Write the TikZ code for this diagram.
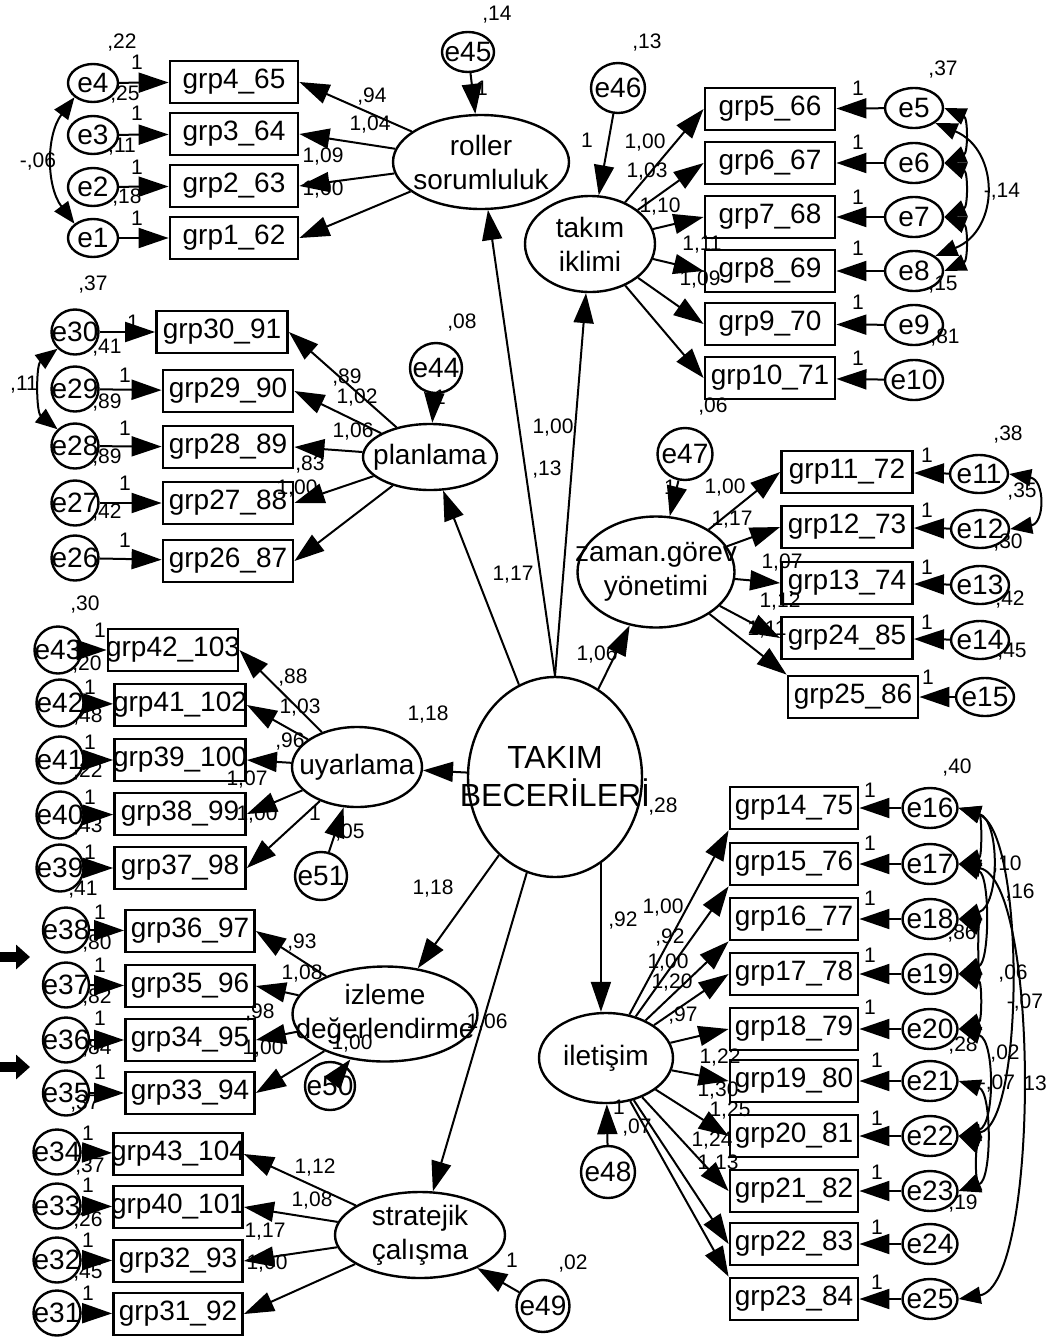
\documentclass[tikz,border=0pt]{standalone}
\usepackage{fontspec}
\setmainfont{Liberation Sans}
\usetikzlibrary{arrows.meta,shapes.geometric}
\newcounter{lbc}
\newcommand\mylb[3]{\stepcounter{lbc}\node[lbl] (L\thelbc) at (#1,#2) {#3};}
\newcommand\mybx[5]{\node[obs,minimum width=#4pt] (#1) at (#2,#3) {};\node[btxt] (#1t) at (#1) {#5};}
\newcommand\myev[6]{\node[err,minimum width=#4pt,minimum height=#5pt] (#1) at (#2,#3) {};\node[etxt] (#1t) at (#1) {#6};}
\newcommand\mylv[6]{\node[lat,minimum width=#4pt,minimum height=#5pt] (#1) at (#2,#3) {};\node[ltxt] (#1t) at (#1) {#6};}
\newcommand\mycv[5]{\draw[cov] (#1) .. controls (#3,#4) and (#3,#5) .. (#2);}
\tikzset{
 obs/.style={draw,line width=2.8pt,minimum height=42pt,inner sep=0pt},
 btxt/.style={inner sep=0pt,font=\fontsize{28}{30}\selectfont},
 err/.style={draw,ellipse,line width=2.4pt,inner sep=0pt},
 etxt/.style={inner sep=0pt,font=\fontsize{28}{30}\selectfont},
 lat/.style={draw,ellipse,line width=2.4pt,inner sep=0pt},
 ltxt/.style={inner sep=0pt,align=center,font=\fontsize{28}{34}\selectfont},
 lbl/.style={inner sep=0pt,font=\fontsize{21}{22}\selectfont},
 arr/.style={-{Triangle[length=30pt,width=20pt]},line width=2pt},
 cov/.style={{Triangle[length=22pt,width=17pt]}-{Triangle[length=22pt,width=17pt]},line width=2pt}
}
\begin{document}
\begin{tikzpicture}[x=1pt,y=-1pt]
\fill[white] (0,0) rectangle (1049,1339);
\useasboundingbox (0,0) rectangle (1049,1339);

% ---------- latent variables ----------
\mylv{roller}{481}{162}{176}{94}{roller\\sorumluluk}
\mylv{takim}{590}{244}{130}{96}{takım\\iklimi}
\mylv{plan}{430}{457}{134}{66}{planlama}
\mylv{zaman}{656}{572}{157}{111}{zaman.görev\\yönetimi}
\mylv{uyar}{357}{767}{130}{80}{uyarlama}
\mylv{izleme}{385}{1014}{185}{95}{izleme\\değerlendirme}
\mylv{strat}{420}{1235}{170}{86}{stratejik\\çalışma}
\mylv{ilet}{606}{1058}{134}{90}{iletişim}
\node[lat,minimum width=174pt,minimum height=200pt] (tb) at (555,777) {};
\node[inner sep=0pt,align=center,font=\fontsize{32}{38}\selectfont] (tbt) at (tb) {TAKIM\\BECERİLERİ};

% ---------- disturbance terms ----------
\myev{e45}{468}{52}{52}{40}{e45}
\myev{e46}{618}{88}{54}{50}{e46}
\myev{e44}{436}{368}{52}{50}{e44}
\myev{e47}{685}{454}{55}{52}{e47}
\myev{e51}{321}{876}{52}{48}{e51}
\myev{e50}{330}{1086}{50}{48}{e50}
\myev{e48}{608}{1172}{54}{52}{e48}
\myev{e49}{543}{1306}{53}{52}{e49}

% ---------- roller group ----------
\mybx{b4}{234}{82}{128}{grp4\_65}
\mybx{b3}{234}{134}{128}{grp3\_64}
\mybx{b2}{234}{186}{128}{grp2\_63}
\mybx{b1}{234}{238}{128}{grp1\_62}
\myev{e4}{93}{83}{50}{38}{e4}
\myev{e3}{93}{135}{50}{38}{e3}
\myev{e2}{93}{187}{50}{38}{e2}
\myev{e1}{93}{238}{50}{38}{e1}

% ---------- takim iklimi group ----------
\mybx{b5}{770}{109}{130}{grp5\_66}
\mybx{b6}{770}{163}{130}{grp6\_67}
\mybx{b7}{770}{217}{130}{grp7\_68}
\mybx{b8}{770}{271}{130}{grp8\_69}
\mybx{b9}{770}{324}{130}{grp9\_70}
\mybx{b10}{770}{378}{130}{grp10\_71}
\myev{e5}{914}{108}{58}{40}{e5}
\myev{e6}{914}{163}{58}{40}{e6}
\myev{e7}{914}{217}{58}{40}{e7}
\myev{e8}{914}{271}{58}{40}{e8}
\myev{e9}{914}{325}{58}{40}{e9}
\myev{e10}{914}{380}{58}{40}{e10}

% ---------- planlama group ----------
\mybx{b30}{222}{332}{131}{grp30\_91}
\mybx{b29}{228}{391}{130}{grp29\_90}
\mybx{b28}{228}{447}{130}{grp28\_89}
\mybx{b27}{228}{503}{130}{grp27\_88}
\mybx{b26}{228}{561}{130}{grp26\_87}
\myev{e30}{75}{332}{47}{45}{e30}
\myev{e29}{75}{389}{47}{45}{e29}
\myev{e28}{75}{446}{47}{45}{e28}
\myev{e27}{75}{503}{47}{45}{e27}
\myev{e26}{75}{558}{47}{45}{e26}

% ---------- zaman group ----------
\mybx{b11}{847}{472}{131}{grp11\_72}
\mybx{b12}{847}{527}{131}{grp12\_73}
\mybx{b13}{847}{583}{131}{grp13\_74}
\mybx{b24}{847}{638}{131}{grp24\_85}
\mybx{b25}{853}{697}{130}{grp25\_86}
\myev{e11}{979}{474}{58}{38}{e11}
\myev{e12}{980}{529}{58}{38}{e12}
\myev{e13}{980}{585}{58}{38}{e13}
\myev{e14}{980}{640}{58}{38}{e14}
\myev{e15}{985}{697}{58}{38}{e15}

% ---------- uyarlama group ----------
\mybx{b42}{173}{650}{130}{grp42\_103}
\mybx{b41}{180}{705}{131}{grp41\_102}
\mybx{b39}{180}{760}{131}{grp39\_100}
\mybx{b38}{180}{814}{131}{grp38\_99}
\mybx{b37}{180}{868}{131}{grp37\_98}
\myev{e43}{58}{650}{47}{47}{e43}
\myev{e42}{60}{703}{47}{47}{e42}
\myev{e41}{60}{760}{47}{47}{e41}
\myev{e40}{60}{815}{47}{47}{e40}
\myev{e39}{60}{868}{47}{47}{e39}

% ---------- izleme group ----------
\mybx{b36}{190}{931}{129}{grp36\_97}
\mybx{b35}{190}{986}{129}{grp35\_96}
\mybx{b34}{190}{1040}{129}{grp34\_95}
\mybx{b33}{190}{1093}{129}{grp33\_94}
\myev{e38}{66}{930}{46}{45}{e38}
\myev{e37}{66}{985}{46}{45}{e37}
\myev{e36}{66}{1040}{46}{45}{e36}
\myev{e35}{66}{1093}{46}{45}{e35}

% ---------- stratejik group ----------
\mybx{b43}{178}{1154}{129}{grp43\_104}
\mybx{b40}{178}{1207}{129}{grp40\_101}
\mybx{b32}{178}{1261}{129}{grp32\_93}
\mybx{b31}{178}{1314}{129}{grp31\_92}
\myev{e34}{57}{1152}{47}{45}{e34}
\myev{e33}{57}{1206}{47}{45}{e33}
\myev{e32}{57}{1260}{47}{45}{e32}
\myev{e31}{57}{1313}{47}{45}{e31}

% ---------- iletisim group ----------
\mybx{b14}{794}{808}{128}{grp14\_75}
\mybx{b15}{794}{864}{128}{grp15\_76}
\mybx{b16}{794}{919}{128}{grp16\_77}
\mybx{b17}{794}{974}{128}{grp17\_78}
\mybx{b18}{794}{1029}{128}{grp18\_79}
\mybx{b19}{794}{1081}{128}{grp19\_80}
\mybx{b20}{794}{1136}{128}{grp20\_81}
\mybx{b21}{794}{1191}{128}{grp21\_82}
\mybx{b22}{794}{1244}{128}{grp22\_83}
\mybx{b23}{794}{1299}{128}{grp23\_84}
\myev{e16}{930}{808}{55}{40}{e16}
\myev{e17}{930}{864}{55}{40}{e17}
\myev{e18}{930}{919}{55}{40}{e18}
\myev{e19}{930}{974}{55}{40}{e19}
\myev{e20}{930}{1029}{55}{40}{e20}
\myev{e21}{930}{1081}{55}{40}{e21}
\myev{e22}{930}{1136}{55}{40}{e22}
\myev{e23}{930}{1191}{55}{40}{e23}
\myev{e24}{930}{1244}{55}{40}{e24}
\myev{e25}{930}{1299}{55}{40}{e25}

% ---------- structural paths ----------
\draw[arr] (tb.north) -- (roller);
\draw[arr] (tb.north) -- (takim);
\draw[arr] (tb) -- (plan);
\draw[arr] (tb) -- (zaman);
\draw[arr] (tb) -- (uyar);
\draw[arr] (tb) -- (izleme);
\draw[arr] (tb) -- (strat);
\draw[arr] (tb.-62) -- (tb.-62 |- ilet.north);
\draw[arr] (e45) -- (roller);
\draw[arr] (e46) -- (takim);
\draw[arr] (e44) -- (plan);
\draw[arr] (e47) -- (zaman);
\draw[arr] (e51) -- (uyar);
\draw[arr] (e50) -- (izleme);
\draw[arr] (e48) -- (ilet);
\draw[arr] (e49) -- (strat);

% ---------- loadings ----------
\foreach \b in {b4,b3,b2,b1} {\draw[arr] (roller) -- (\b.east);}
\foreach \b in {b5,b6,b7,b8,b9,b10} {\draw[arr] (takim) -- (\b.west);}
\foreach \b in {b30,b29,b28,b27,b26} {\draw[arr] (plan) -- (\b.east);}
\foreach \b in {b11,b12,b13,b24} {\draw[arr] (zaman) -- (\b.west);}
\draw[arr] (zaman) -- (b25.north west);
\foreach \b in {b42,b41,b39,b38,b37} {\draw[arr] (uyar) -- (\b.east);}
\foreach \b in {b36,b35,b34,b33} {\draw[arr] (izleme) -- (\b.east);}
\foreach \b in {b43,b40,b32,b31} {\draw[arr] (strat) -- (\b.east);}
\foreach \b in {b14,b15,b16} {\draw[arr] (ilet) -- (\b.south west);}
\foreach \b in {b17,b18,b19,b20,b21,b22} {\draw[arr] (ilet) -- (\b.west);}
\draw[arr] (ilet) -- (b23.north west);

% ---------- error -> indicator ----------
\foreach \e/\b in {e4/b4,e3/b3,e2/b2,e1/b1,e5/b5,e6/b6,e7/b7,e8/b8,e9/b9,e10/b10,
  e30/b30,e29/b29,e28/b28,e27/b27,e26/b26,e11/b11,e12/b12,e13/b13,e14/b24,e15/b25,
  e43/b42,e42/b41,e41/b39,e40/b38,e39/b37,e38/b36,e37/b35,e36/b34,e35/b33,
  e34/b43,e33/b40,e32/b32,e31/b31,e16/b14,e17/b15,e18/b16,e19/b17,e20/b18,
  e21/b19,e22/b20,e23/b21,e24/b22,e25/b23} {\draw[arr] (\e) -- (\b);}

% ---------- covariances ----------
\mycv{e4.south west}{e1.north west}{46}{135}{186}
\mycv{e30.south west}{e28.north west}{36}{365}{412}
\mycv{e5.south east}{e8.north east}{1000}{150}{230}
\mycv{e5.east}{e6.east}{968}{118}{153}
\mycv{e6.east}{e7.east}{968}{172}{207}
\mycv{e7.east}{e8.east}{968}{226}{261}
\mycv{e11.east}{e12.east}{1045}{480}{523}
\mycv{e16.east}{e17.east}{982}{815}{857}
\mycv{e16.east}{e18.east}{1000}{820}{905}
\mycv{e17.east}{e19.east}{990}{875}{962}
\mycv{e18.east}{e19.east}{978}{926}{967}
\mycv{e19.east}{e20.east}{982}{982}{1021}
\mycv{e16.east}{e22.east}{1025}{830}{1125}
\mycv{e17.east}{e25.east}{1040}{880}{1285}
\mycv{e20.east}{e22.east}{995}{1040}{1125}
\mycv{e21.east}{e23.east}{992}{1092}{1180}
\mycv{e22.east}{e23.east}{975}{1143}{1184}
\coordinate (la1) at (-12,957);
\coordinate (la2) at (30,957);
\coordinate (lb1) at (-12,1067);
\coordinate (lb2) at (30,1067);
\draw[-{Triangle[length=14pt,width=24pt]},line width=10pt] (la1) -- (la2);
\draw[-{Triangle[length=14pt,width=24pt]},line width=10pt] (lb1) -- (lb2);

% ---------- labels: roller ----------
\mylb{122}{43}{,22}\mylb{137}{62}{1}\mylb{125}{95}{,25}\mylb{137}{113}{1}
\mylb{122}{147}{,11}\mylb{137}{167}{1}\mylb{127}{198}{,18}\mylb{137}{218}{1}
\mylb{38}{162}{-,06}
\mylb{372}{97}{,94}\mylb{370}{125}{1,04}\mylb{323}{157}{1,09}\mylb{323}{190}{1,00}
\mylb{497}{15}{,14}\mylb{482}{88}{1}
% takim
\mylb{647}{43}{,13}\mylb{587}{140}{1}
\mylb{645}{143}{1,00}\mylb{647}{172}{1,03}\mylb{660}{207}{1,10}
\mylb{702}{245}{1,11}\mylb{700}{280}{1,09}
\mylb{943}{70}{,37}
\mylb{858}{88}{1}\mylb{858}{142}{1}\mylb{858}{197}{1}\mylb{858}{248}{1}\mylb{858}{302}{1}\mylb{858}{358}{1}
\mylb{1002}{192}{-,14}\mylb{943}{285}{,15}\mylb{945}{338}{,81}\mylb{713}{407}{,06}
% planlama
\mylb{93}{285}{,37}\mylb{133}{322}{1}\mylb{107}{348}{,41}\mylb{24}{385}{,11}
\mylb{125}{375}{1}\mylb{107}{403}{,89}\mylb{125}{428}{1}\mylb{107}{458}{,89}
\mylb{125}{483}{1}\mylb{107}{513}{,42}\mylb{125}{540}{1}
\mylb{347}{378}{,89}\mylb{357}{398}{1,02}\mylb{353}{432}{1,06}\mylb{310}{465}{,83}\mylb{297}{489}{1,00}
\mylb{462}{323}{,08}\mylb{440}{397}{1}
% centre
\mylb{553}{428}{1,00}\mylb{547}{470}{,13}\mylb{513}{575}{1,17}\mylb{597}{655}{1,06}
\mylb{428}{715}{1,18}\mylb{663}{807}{,28}\mylb{433}{888}{1,18}\mylb{623}{920}{,92}\mylb{487}{1022}{1,06}
% zaman
\mylb{1008}{435}{,38}
\mylb{927}{455}{1}\mylb{927}{510}{1}\mylb{927}{567}{1}\mylb{927}{622}{1}\mylb{928}{677}{1}
\mylb{725}{488}{1,00}\mylb{732}{520}{1,17}\mylb{782}{563}{1,07}\mylb{780}{602}{1,12}\mylb{767}{630}{1,11}
\mylb{1008}{543}{,30}\mylb{1010}{600}{,42}\mylb{1012}{652}{,45}\mylb{670}{487}{1}\mylb{1022}{492}{,35}
% uyarlama
\mylb{85}{605}{,30}\mylb{100}{630}{1}\mylb{87}{665}{,20}\mylb{90}{687}{1}\mylb{88}{717}{,48}
\mylb{90}{742}{1}\mylb{88}{772}{,22}\mylb{90}{797}{1}\mylb{88}{827}{,43}\mylb{90}{852}{1}\mylb{83}{890}{,41}
\mylb{293}{678}{,88}\mylb{300}{708}{1,03}\mylb{290}{742}{,96}\mylb{247}{780}{1,07}\mylb{257}{815}{1,00}
\mylb{315}{813}{1}\mylb{350}{833}{,05}
% izleme
\mylb{100}{912}{1}\mylb{97}{943}{,80}\mylb{100}{965}{1}\mylb{97}{997}{,82}\mylb{100}{1018}{1}
\mylb{97}{1048}{,84}\mylb{100}{1072}{1}\mylb{85}{1103}{,37}
\mylb{302}{942}{,93}\mylb{302}{973}{1,08}\mylb{260}{1012}{,98}\mylb{263}{1048}{1,00}\mylb{352}{1043}{1,00}
% stratejik
\mylb{88}{1133}{1}\mylb{90}{1166}{,37}\mylb{88}{1185}{1}\mylb{88}{1220}{,26}\mylb{88}{1240}{1}
\mylb{88}{1273}{,45}\mylb{88}{1293}{1}
\mylb{315}{1167}{1,12}\mylb{312}{1200}{1,08}\mylb{265}{1232}{1,17}\mylb{267}{1263}{1,00}
\mylb{512}{1260}{1}\mylb{573}{1263}{,02}
% iletisim
\mylb{619}{1107}{1}\mylb{637}{1127}{,07}\mylb{957}{768}{,40}
\mylb{870}{790}{1}\mylb{870}{843}{1}\mylb{870}{898}{1}\mylb{870}{955}{1}\mylb{870}{1007}{1}
\mylb{877}{1060}{1}\mylb{877}{1118}{1}\mylb{877}{1172}{1}\mylb{877}{1227}{1}\mylb{877}{1282}{1}
\mylb{1007}{865}{,10}\mylb{1020}{892}{,16}\mylb{1013}{973}{,06}\mylb{1025}{1002}{-,07}
\mylb{962}{933}{,86}\mylb{963}{1045}{,28}\mylb{1005}{1053}{,02}\mylb{997}{1083}{-,07}\mylb{1035}{1083}{13}
\mylb{963}{1203}{,19}
\mylb{663}{908}{1,00}\mylb{670}{937}{,92}\mylb{668}{962}{1,00}\mylb{672}{982}{1,20}\mylb{683}{1015}{,97}
\mylb{720}{1057}{1,22}\mylb{718}{1090}{1,30}\mylb{730}{1110}{1,25}\mylb{712}{1140}{1,24}\mylb{718}{1163}{1,13}
\end{tikzpicture}
\end{document}
